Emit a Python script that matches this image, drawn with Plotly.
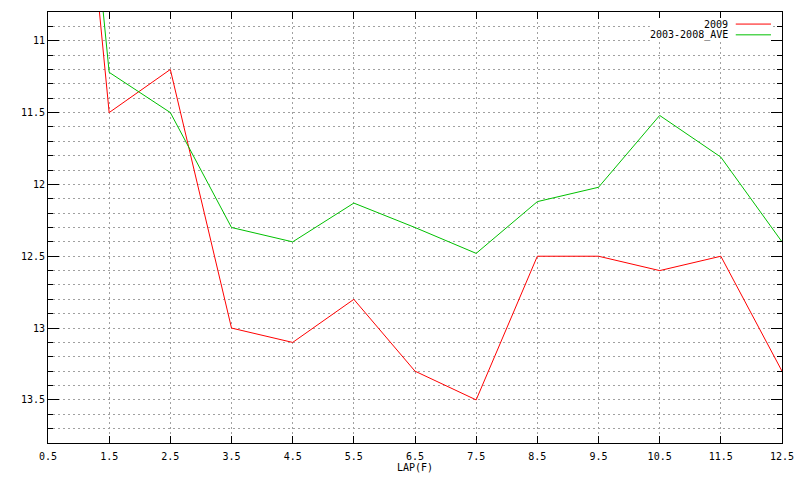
import plotly.graph_objects as go

laps = [0.5, 1.5, 2.5, 3.5, 4.5, 5.5, 6.5, 7.5, 8.5, 9.5, 10.5, 11.5, 12.5]
y2009 = [7.1, 11.5, 11.2, 13.0, 13.1, 12.8, 13.3, 13.5, 12.5, 12.5, 12.6, 12.5, 13.3]
yave = [6.9, 11.22, 11.5, 12.3, 12.4, 12.13, 12.3, 12.48, 12.12, 12.02, 11.52, 11.81, 12.4]
series_names = ["2009", "2003-2008_AVE"]
series_colors = ["#ff0000", "#00c000"]

FONT = "DejaVu Sans Mono"
GRID = dict(gridcolor="#a0a0a0", gridwidth=1, griddash="2px,3px")

fig = go.Figure()
for name, ys, col in zip(series_names, [y2009, yave], series_colors):
    fig.add_trace(go.Scatter(x=laps, y=ys, mode="lines", name=name,
                             line=dict(color=col, width=1), showlegend=False))

axis_common = dict(
    showline=True, linecolor="black", linewidth=1, mirror="ticks",
    ticks="inside", tickcolor="black", tickwidth=1,
    tickfont=dict(family=FONT, size=10, color="black"),
    showgrid=True, zeroline=False, automargin=False, **GRID,
)

fig.update_xaxes(range=[0.5, 12.5], tick0=0.5, dtick=1, ticklen=7, ticklabelstandoff=4,
                 title=dict(text="LAP(F)", font=dict(family=FONT, size=10, color="black"), standoff=0),
                 **axis_common)
fig.update_yaxes(range=[13.8, 10.8], tick0=11, dtick=0.5, ticklen=11,
                 minor=dict(dtick=0.1, ticks="inside", ticklen=5, tickcolor="black",
                            showgrid=True, **GRID),
                 **axis_common)

# legend (gnuplot style: text right-aligned, sample on the right)
shapes = [dict(type="rect", xref="paper", yref="paper", x0=0.82, x1=0.985, y0=0.9316, y1=0.986,
               fillcolor="white", line=dict(width=0), layer="above")]
annotations = []
rows = [0.972, 0.947]
for name, col, yy in zip(series_names, series_colors, rows):
    shapes.append(dict(type="line", xref="paper", yref="paper", x0=0.937, x1=0.985, y0=yy, y1=yy,
                       line=dict(color=col, width=1), layer="above"))
    annotations.append(dict(xref="paper", yref="paper", x=0.929, y=yy, text=name, showarrow=False,
                            xanchor="right", yanchor="middle",
                            font=dict(family=FONT, size=10, color="black")))

fig.update_layout(
    width=800, height=480,
    margin=dict(l=48, r=18, t=12, b=37),
    paper_bgcolor="white", plot_bgcolor="white",
    shapes=shapes, annotations=annotations,
)

fig.write_html("out.html", config={"displayModeBar": False},
               post_script="document.body.style.margin='0px';")
